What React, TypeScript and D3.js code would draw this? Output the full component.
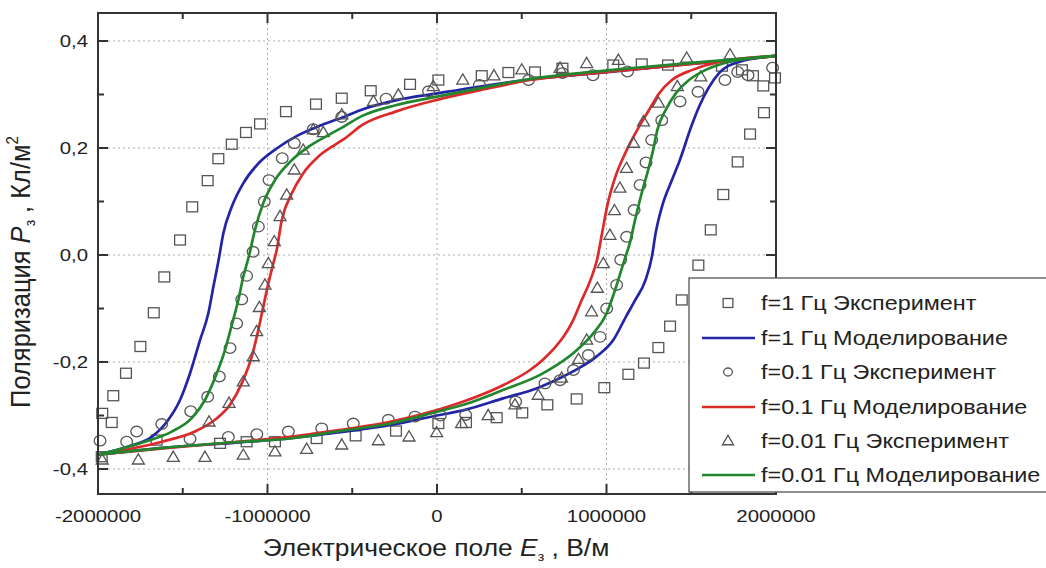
import React from "react";
import * as d3 from "d3";

type Pt = [number, number];

// ---------- axis ticks ----------
const xMajorTicks = [-2000000, -1000000, 0, 1000000, 2000000];
const xMinorTicks = [-1500000, -500000, 500000, 1500000];
const yMajorTicks = [-0.4, -0.2, 0, 0.2, 0.4];
const yMinorTicks = [-0.3, -0.1, 0.1, 0.3];
const yTickLabels = ["-0,4", "-0,2", "0,0", "0,2", "0,4"];
const xTickLabels = ["-2000000", "-1000000", "0", "1000000", "2000000"];

// ---------- legend ----------
const legendLabels = [
  "f=1 Гц Эксперимент",
  "f=1 Гц Моделирование",
  "f=0.1 Гц Эксперимент",
  "f=0.1 Гц Моделирование",
  "f=0.01 Гц Эксперимент",
  "f=0.01 Гц Моделирование",
];

// ---------- experiment f = 1 Hz (squares) ----------
const squares1Hz: Pt[] = [
  [-1.978e6, -0.377], [-1.975e6, -0.296], [-1.919e6, -0.313], [-1.91e6, -0.263],
  [-1.835e6, -0.221], [-1.75e6, -0.171], [-1.671e6, -0.108], [-1.609e6, -0.041],
  [-1.516e6, 0.028], [-1.444e6, 0.09], [-1.353e6, 0.139], [-1.29e6, 0.18],
  [-1.211e6, 0.207], [-1.127e6, 0.229], [-1.044e6, 0.245], [-0.891e6, 0.268],
  [-0.714e6, 0.282], [-0.562e6, 0.293], [-0.391e6, 0.307], [-0.159e6, 0.319],
  [0.008e6, 0.327], [0.264e6, 0.335], [0.421e6, 0.341], [0.578e6, 0.342],
  [0.74e6, 0.349], [1.04e6, 0.355], [1.208e6, 0.357], [1.363e6, 0.355],
  [1.681e6, 0.353], [1.799e6, 0.346], [1.864e6, 0.335], [1.994e6, 0.331],
  [1.925e6, 0.316], [1.929e6, 0.266], [1.847e6, 0.226], [1.774e6, 0.174],
  [1.689e6, 0.113], [1.615e6, 0.047], [1.542e6, -0.019], [1.444e6, -0.084],
  [1.375e6, -0.133], [1.306e6, -0.173], [1.221e6, -0.202], [1.129e6, -0.223],
  [0.987e6, -0.248], [0.824e6, -0.269], [0.651e6, -0.28], [0.503e6, -0.295],
  [0.352e6, -0.304], [0.171e6, -0.313], [0.008e6, -0.315], [-0.242e6, -0.329],
  [-0.48e6, -0.338], [-0.71e6, -0.343], [-0.956e6, -0.349], [-1.123e6, -0.349],
  [-1.28e6, -0.352], [-1.654e6, -0.346],
];

// ---------- experiment f = 0.1 Hz (circles) ----------
const circles01Hz: Pt[] = [
  [-1.988e6, -0.347], [-1.831e6, -0.349], [-1.772e6, -0.33], [-1.624e6, -0.316],
  [-1.453e6, -0.292], [-1.353e6, -0.265], [-1.284e6, -0.227], [-1.221e6, -0.174],
  [-1.182e6, -0.128], [-1.152e6, -0.083], [-1.123e6, -0.039], [-1.085e6, 0.006],
  [-1.054e6, 0.053], [-1.019e6, 0.1], [-0.991e6, 0.14], [-0.913e6, 0.181],
  [-0.842e6, 0.209], [-0.73e6, 0.235], [-0.562e6, 0.258], [-0.3e6, 0.292],
  [-0.05e6, 0.306], [0.25e6, 0.318], [0.54e6, 0.327], [0.74e6, 0.34],
  [0.92e6, 0.336], [1.124e6, 0.343], [1.774e6, 0.342], [1.835e6, 0.336],
  [1.98e6, 0.35], [1.699e6, 0.327], [1.54e6, 0.305], [1.434e6, 0.287],
  [1.326e6, 0.252], [1.267e6, 0.215], [1.233e6, 0.173], [1.198e6, 0.131],
  [1.163e6, 0.084], [1.119e6, 0.034], [1.084e6, -0.009], [1.06e6, -0.056],
  [1.001e6, -0.1], [0.962e6, -0.153], [0.893e6, -0.187], [0.805e6, -0.215],
  [0.726e6, -0.234], [0.637e6, -0.24], [0.464e6, -0.274], [0.169e6, -0.299],
  [0.02e6, -0.3], [-0.13e6, -0.302], [-0.287e6, -0.308], [-0.494e6, -0.315],
  [-0.68e6, -0.324], [-0.877e6, -0.33], [-1.063e6, -0.335], [-1.231e6, -0.34],
  [-1.457e6, -0.344],
];

// ---------- experiment f = 0.01 Hz (triangles) ----------
const triangles001Hz: Pt[] = [
  [-1.975e6, -0.383], [-1.762e6, -0.383], [-1.556e6, -0.378], [-1.369e6, -0.378],
  [-1.143e6, -0.374], [-0.956e6, -0.368], [-0.769e6, -0.363], [-0.562e6, -0.355],
  [-0.346e6, -0.347], [-0.165e6, -0.34], [-0.002e6, -0.332], [0.145e6, -0.315],
  [0.302e6, -0.3], [0.46e6, -0.28], [0.597e6, -0.262], [0.735e6, -0.23],
  [0.835e6, -0.195], [0.883e6, -0.159], [0.912e6, -0.106], [0.946e6, -0.062],
  [0.981e6, -0.016], [1.02e6, 0.037], [1.047e6, 0.083], [1.079e6, 0.125],
  [1.118e6, 0.162], [1.159e6, 0.209], [1.218e6, 0.249], [1.307e6, 0.284],
  [1.418e6, 0.315], [1.556e6, 0.333], [1.473e6, 0.368], [1.729e6, 0.374],
  [-1.345e6, -0.312], [-1.227e6, -0.277], [-1.143e6, -0.237], [-1.084e6, -0.19],
  [-1.064e6, -0.143], [-1.048e6, -0.098], [-1.015e6, -0.056], [-0.995e6, -0.016],
  [-0.96e6, 0.025], [-0.926e6, 0.072], [-0.887e6, 0.112], [-0.842e6, 0.159],
  [-0.789e6, 0.196], [-0.73e6, 0.234], [-0.671e6, 0.229], [-0.562e6, 0.262],
  [-0.375e6, 0.287], [-0.228e6, 0.299], [-0.022e6, 0.315], [0.152e6, 0.327],
  [0.336e6, 0.335], [0.5e6, 0.346], [0.726e6, 0.349], [0.883e6, 0.358],
  [1.07e6, 0.364],
];

// ---------- model f = 1 Hz (blue) ----------
const model1HzUpper: Pt[] = [
  [-2e6, -0.373], [-1.821e6, -0.358], [-1.683e6, -0.34], [-1.585e6, -0.308],
  [-1.516e6, -0.271], [-1.457e6, -0.221], [-1.398e6, -0.159], [-1.349e6, -0.109],
  [-1.319e6, -0.059], [-1.29e6, -0.012], [-1.26e6, 0.041], [-1.211e6, 0.09],
  [-1.143e6, 0.134], [-1.054e6, 0.171], [-0.946e6, 0.199], [-0.818e6, 0.224],
  [-0.68e6, 0.243], [-0.543e6, 0.259], [-0.441e6, 0.272], [-0.244e6, 0.289],
  [0, 0.302], [0.254e6, 0.315], [0.549e6, 0.328], [0.844e6, 0.337],
  [1.139e6, 0.346], [1.5e6, 0.357], [1.8e6, 0.366], [2e6, 0.372],
];
const model1HzLower: Pt[] = [
  [-2e6, -0.373], [-1.6e6, -0.36], [-1.2e6, -0.351], [-0.85e6, -0.342],
  [-0.57e6, -0.331], [-0.28e6, -0.318], [0, -0.3], [0.16e6, -0.29],
  [0.39e6, -0.268], [0.59e6, -0.249], [0.68e6, -0.237], [0.8e6, -0.218],
  [0.94e6, -0.19], [1.04e6, -0.159], [1.115e6, -0.115], [1.17e6, -0.084],
  [1.23e6, -0.047], [1.268e6, -0.003], [1.29e6, 0.041], [1.327e6, 0.09],
  [1.386e6, 0.14], [1.43e6, 0.175], [1.5e6, 0.24], [1.546e6, 0.277],
  [1.664e6, 0.34], [1.782e6, 0.361], [2e6, 0.372],
];

// ---------- model f = 0.1 Hz (red) ----------
const model01HzUpper: Pt[] = [
  [-2e6, -0.373], [-1.624e6, -0.349], [-1.428e6, -0.33], [-1.31e6, -0.308],
  [-1.221e6, -0.28], [-1.152e6, -0.24], [-1.093e6, -0.19], [-1.054e6, -0.14],
  [-1.025e6, -0.097], [-0.995e6, -0.053], [-0.966e6, -0.016], [-0.946e6, 0.009],
  [-0.916e6, 0.065], [-0.857e6, 0.115], [-0.789e6, 0.153], [-0.7e6, 0.184],
  [-0.602e6, 0.206], [-0.543e6, 0.218], [-0.441e6, 0.243], [-0.244e6, 0.268],
  [0, 0.29], [0.254e6, 0.308], [0.549e6, 0.327], [1e6, 0.342],
  [1.5e6, 0.357], [2e6, 0.372],
];
const model01HzLower: Pt[] = [
  [-2e6, -0.373], [-1.6e6, -0.361], [-1.2e6, -0.35], [-0.867e6, -0.34],
  [-0.572e6, -0.327], [-0.277e6, -0.312], [0, -0.29], [0.156e6, -0.274],
  [0.392e6, -0.243], [0.549e6, -0.215], [0.62e6, -0.197], [0.69e6, -0.175],
  [0.746e6, -0.153], [0.8e6, -0.124], [0.85e6, -0.087], [0.905e6, -0.047],
  [0.944e6, -0.009], [0.974e6, 0.041], [1.003e6, 0.09], [1.052e6, 0.146],
  [1.11e6, 0.19], [1.192e6, 0.24], [1.251e6, 0.271], [1.31e6, 0.302],
  [1.386e6, 0.327], [1.507e6, 0.346], [1.664e6, 0.361], [2e6, 0.372],
];

// ---------- model f = 0.01 Hz (green) ----------
const model001HzUpper: Pt[] = [
  [-2e6, -0.373], [-1.723e6, -0.349], [-1.565e6, -0.33], [-1.447e6, -0.305],
  [-1.369e6, -0.271], [-1.31e6, -0.23], [-1.251e6, -0.178], [-1.211e6, -0.131],
  [-1.172e6, -0.084], [-1.143e6, -0.041], [-1.108e6, 0.0], [-1.074e6, 0.047],
  [-1.025e6, 0.097], [-0.956e6, 0.14], [-0.867e6, 0.174], [-0.759e6, 0.202],
  [-0.641e6, 0.224], [-0.55e6, 0.24], [-0.441e6, 0.26], [-0.244e6, 0.28],
  [0, 0.296], [0.254e6, 0.312], [0.549e6, 0.329], [0.844e6, 0.34],
  [1.139e6, 0.349], [1.5e6, 0.359], [2e6, 0.372],
];
const model001HzLower: Pt[] = [
  [-2e6, -0.373], [-1.6e6, -0.36], [-1.2e6, -0.35], [-0.867e6, -0.343],
  [-0.572e6, -0.329], [-0.277e6, -0.315], [0, -0.293], [0.156e6, -0.28],
  [0.392e6, -0.252], [0.608e6, -0.224], [0.706e6, -0.206], [0.824e6, -0.178],
  [0.923e6, -0.146], [1.001e6, -0.109], [1.035e6, -0.08], [1.07e6, -0.046],
  [1.105e6, -0.01], [1.139e6, 0.024], [1.168e6, 0.065], [1.207e6, 0.115],
  [1.246e6, 0.159], [1.275e6, 0.196], [1.3e6, 0.234], [1.349e6, 0.271],
  [1.409e6, 0.302], [1.487e6, 0.327], [1.585e6, 0.346], [1.723e6, 0.361],
  [2e6, 0.372],
];

const BLUE = "#2226a6";
const RED = "#dc2a2a";
const GREEN = "#22862e";
const MARK = "#555";
const FONT = "'Liberation Sans', Arial, sans-serif";

const X0 = 98, X1 = 776, Y0 = 13, Y1 = 494;

const xScale = d3.scaleLinear().domain([-2e6, 2e6]).range([X0, X1]);
const yScale = d3.scaleLinear().domain([-0.4467, 0.4523]).range([Y1, Y0]);

const lineGen = d3
  .line<Pt>()
  .x((d) => xScale(d[0]))
  .y((d) => yScale(d[1]))
  .curve(d3.curveMonotoneX);

function Square({ cx, cy, s = 10 }: { cx: number; cy: number; s?: number }) {
  return <rect x={cx - (s * 1.08) / 2} y={cy - s / 2} width={s * 1.08} height={s} fill="none" stroke={MARK} strokeWidth={1.3} />;
}
function Circle({ cx, cy, r = 5.3 }: { cx: number; cy: number; r?: number }) {
  return <ellipse cx={cx} cy={cy} rx={r * 1.1} ry={r} fill="none" stroke={MARK} strokeWidth={1.3} />;
}
function Tri({ cx, cy, s = 12 }: { cx: number; cy: number; s?: number }) {
  const h = s * 0.85;
  const p = `${cx},${cy - h * 0.6} ${cx + s / 2},${cy + h * 0.4} ${cx - s / 2},${cy + h * 0.4}`;
  return <polygon points={p} fill="none" stroke={MARK} strokeWidth={1.3} />;
}

function SText(props: {
  x: number; y: number; sx?: number; anchor?: string; size: number; children: React.ReactNode;
}) {
  const { x, y, sx = 1, anchor = "start", size, children } = props;
  return (
    <text
      transform={`translate(${x},${y}) scale(${sx},1)`}
      textAnchor={anchor}
      fontSize={size}
      fontFamily={FONT}
      fill="#222"
    >
      {children}
    </text>
  );
}

export default function App() {
  const majorLen = 10;
  const minorLen = 6;
  const tickStroke = "#333";
  const legendRowsY = [303, 338, 372, 407, 441, 475];

  return (
    <svg
      width={1046}
      height={568}
      style={{ position: "absolute", left: 0, top: 0, background: "#fff" }}
    >
      <rect x={0} y={0} width={1046} height={568} fill="#fff" />
      {/* grid */}
      {xMajorTicks.map((t) => (
        <line key={"gx" + t} x1={xScale(t)} x2={xScale(t)} y1={Y0} y2={Y1} stroke="#aaa" strokeWidth={1} strokeDasharray="2,3" />
      ))}
      {yMajorTicks.map((t) => (
        <line key={"gy" + t} x1={X0} x2={X1} y1={yScale(t)} y2={yScale(t)} stroke="#aaa" strokeWidth={1} strokeDasharray="2,3" />
      ))}

      {/* series in plot order */}
      {squares1Hz.map((d, i) => (
        <Square key={"s" + i} cx={xScale(d[0])} cy={yScale(d[1])} />
      ))}
      <path d={lineGen(model1HzUpper) || ""} fill="none" stroke={BLUE} strokeWidth={2.7} />
      <path d={lineGen(model1HzLower) || ""} fill="none" stroke={BLUE} strokeWidth={2.7} />
      {circles01Hz.map((d, i) => (
        <Circle key={"c" + i} cx={xScale(d[0])} cy={yScale(d[1])} />
      ))}
      <path d={lineGen(model01HzUpper) || ""} fill="none" stroke={RED} strokeWidth={2.7} />
      <path d={lineGen(model01HzLower) || ""} fill="none" stroke={RED} strokeWidth={2.7} />
      {triangles001Hz.map((d, i) => (
        <Tri key={"t" + i} cx={xScale(d[0])} cy={yScale(d[1])} />
      ))}
      <path d={lineGen(model001HzUpper) || ""} fill="none" stroke={GREEN} strokeWidth={2.7} />
      <path d={lineGen(model001HzLower) || ""} fill="none" stroke={GREEN} strokeWidth={2.7} />

      {/* frame */}
      <rect x={X0} y={Y0} width={X1 - X0} height={Y1 - Y0} fill="none" stroke={tickStroke} strokeWidth={2} />

      {/* ticks, inward on all sides */}
      {xMajorTicks.map((t) => (
        <g key={"xt" + t}>
          <line x1={xScale(t)} x2={xScale(t)} y1={Y1} y2={Y1 - majorLen} stroke={tickStroke} strokeWidth={2} />
          <line x1={xScale(t)} x2={xScale(t)} y1={Y0} y2={Y0 + majorLen} stroke={tickStroke} strokeWidth={2} />
        </g>
      ))}
      {xMinorTicks.map((t) => (
        <g key={"xm" + t}>
          <line x1={xScale(t)} x2={xScale(t)} y1={Y1} y2={Y1 - minorLen} stroke={tickStroke} strokeWidth={2} />
          <line x1={xScale(t)} x2={xScale(t)} y1={Y0} y2={Y0 + minorLen} stroke={tickStroke} strokeWidth={2} />
        </g>
      ))}
      {yMajorTicks.map((t) => (
        <g key={"yt" + t}>
          <line x1={X0} x2={X0 + majorLen} y1={yScale(t)} y2={yScale(t)} stroke={tickStroke} strokeWidth={2} />
          <line x1={X1} x2={X1 - majorLen} y1={yScale(t)} y2={yScale(t)} stroke={tickStroke} strokeWidth={2} />
        </g>
      ))}
      {yMinorTicks.map((t) => (
        <g key={"ym" + t}>
          <line x1={X0} x2={X0 + minorLen} y1={yScale(t)} y2={yScale(t)} stroke={tickStroke} strokeWidth={2} />
          <line x1={X1} x2={X1 - minorLen} y1={yScale(t)} y2={yScale(t)} stroke={tickStroke} strokeWidth={2} />
        </g>
      ))}

      {/* tick labels */}
      {yMajorTicks.map((t, i) => (
        <SText key={"yl" + t} x={88} y={yScale(t) + 6} sx={1.2} anchor="end" size={17}>
          {yTickLabels[i]}
        </SText>
      ))}
      {xMajorTicks.map((t, i) => (
        <SText key={"xl" + t} x={xScale(t)} y={522} sx={1.2} anchor="middle" size={17}>
          {xTickLabels[i]}
        </SText>
      ))}

      {/* axis titles */}
      <text
        transform="translate(30,272) scale(1.05,1) rotate(-90)"
        textAnchor="middle"
        fontSize={25.5}
        fontFamily={FONT}
        fill="#222"
      >
        Поляризация <tspan fontStyle="italic">P</tspan>
        <tspan fontSize={14} dy={5}>з</tspan>
        <tspan dy={-5}> , Кл/м</tspan>
        <tspan fontSize={15} dy={-11}>2</tspan>
      </text>
      <g transform="translate(436,556) scale(1.1,1)">
        <text x={0} y={0} textAnchor="middle" fontSize={24} fontFamily={FONT} fill="#222">
          Электрическое поле <tspan fontStyle="italic">E</tspan>
          <tspan fontSize={13} dy={5}>з</tspan>
          <tspan dy={-5}> , В/м</tspan>
        </text>
      </g>

      {/* legend */}
      <rect x={689} y={278} width={400} height={214} fill="#fff" stroke="#444" strokeWidth={1.2} />
      {legendLabels.map((lab, i) => {
        const y = legendRowsY[i];
        let sym: React.ReactNode = null;
        if (i === 0) sym = <Square cx={728} cy={y} s={9} />;
        if (i === 2) sym = <Circle cx={728} cy={y} r={4} />;
        if (i === 4) sym = <Tri cx={728} cy={y} s={11} />;
        if (i === 1) sym = <line x1={702} x2={755} y1={y} y2={y} stroke={BLUE} strokeWidth={2.7} />;
        if (i === 3) sym = <line x1={702} x2={755} y1={y} y2={y} stroke={RED} strokeWidth={2.7} />;
        if (i === 5) sym = <line x1={702} x2={755} y1={y} y2={y} stroke={GREEN} strokeWidth={2.7} />;
        return (
          <g key={"lg" + i}>
            {sym}
            <SText x={761} y={y + 7} size={20.5} sx={1.14}>
              {lab}
            </SText>
          </g>
        );
      })}
    </svg>
  );
}
